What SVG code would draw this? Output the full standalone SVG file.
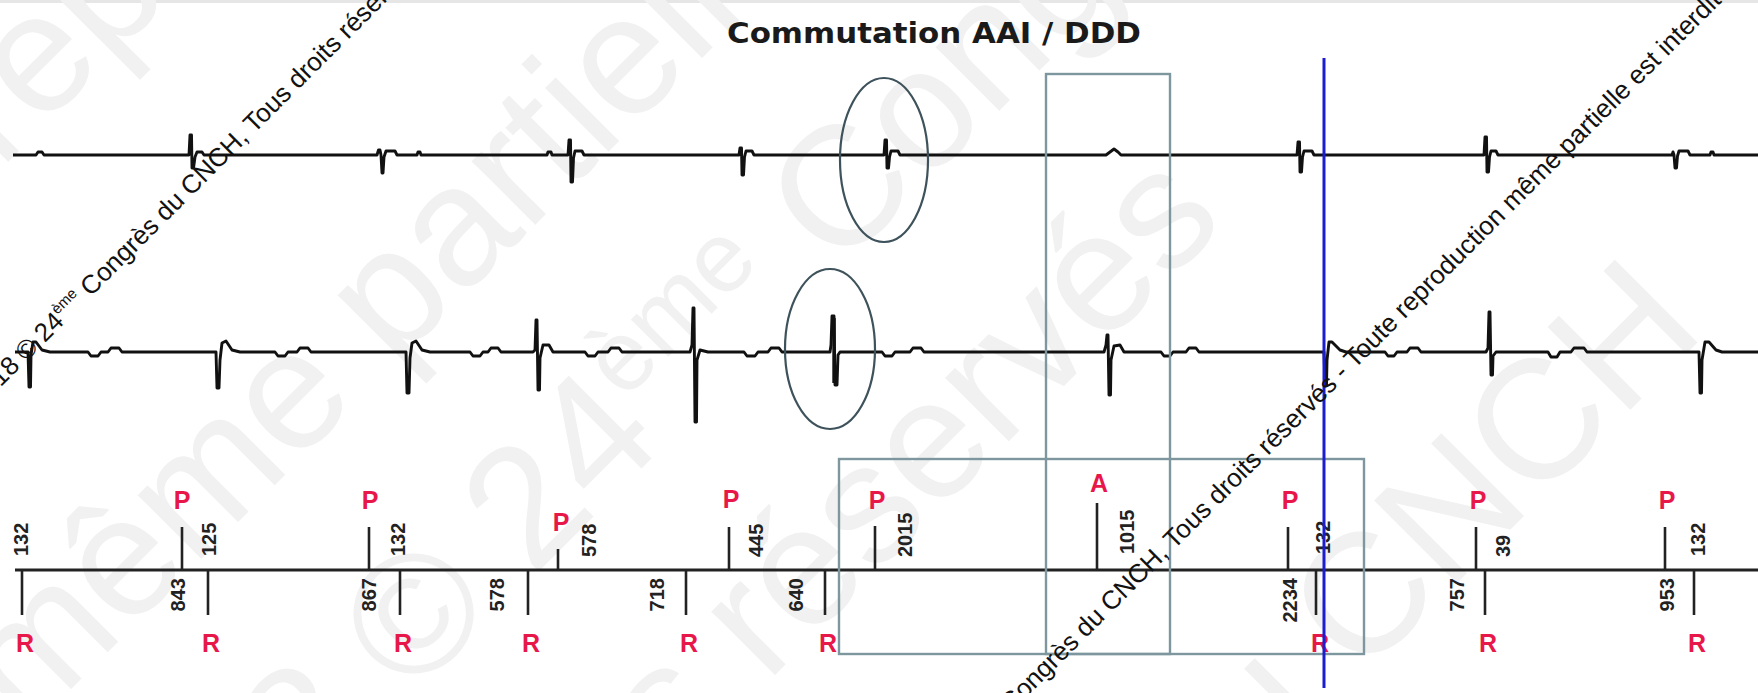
<svg xmlns="http://www.w3.org/2000/svg" width="1758" height="693" viewBox="0 0 1758 693">
<style>
.bg{fill:#ffffff}
.wmbig{font-family:"Liberation Sans",Arial,sans-serif;font-size:170px;fill:#f1f1f1}
.wm{font-family:"Liberation Sans",Arial,sans-serif;font-size:26px;fill:#111111}
.trace{fill:none;stroke:#111111;stroke-width:2.9;stroke-linejoin:round}
.axis{stroke:#222222;stroke-width:2.8}
.tick{stroke:#222222;stroke-width:2.6}
.mk{font-family:"Liberation Sans",Arial,sans-serif;font-weight:bold;font-size:25px;fill:#e8174a;text-anchor:middle}
.num{font-family:"Liberation Sans",Arial,sans-serif;font-weight:bold;font-size:20px;fill:#222222}
.box{fill:none;stroke:#7e979f;stroke-width:2.4}
.ell{fill:none;stroke:#3e525b;stroke-width:2.2}
.title{font-family:"DejaVu Sans",Verdana,sans-serif;font-weight:bold;font-size:28px;fill:#1a1a1a;text-anchor:middle}
</style>
<rect class="bg" x="0" y="0" width="1758" height="693"/>
<rect x="0" y="0" width="1758" height="3" fill="#e6e6e6"/>

<g id="watermark-faint">
<text class="wmbig" transform="translate(0,170) rotate(-45)">reproduction</text>
<text class="wmbig" transform="translate(26,734) rotate(-45)">même partielle</text>
<text class="wmbig" transform="translate(110,1000) rotate(-45)">2018 © 24<tspan font-size="100" dy="-60">ème</tspan><tspan dy="60"> Congrès</tspan></text>
<text class="wmbig" transform="translate(152,1298) rotate(-45)">Tous droits réservés</text>
<text class="wmbig" transform="translate(1193,847) rotate(-45)">du CNCH</text>
</g>

<g id="title">
<text class="title" x="934" y="43" textLength="414" lengthAdjust="spacingAndGlyphs">Commutation AAI / DDD</text>
</g>

<g id="trace-top">
<path class="trace" d="M13,155 L36,155 L38,152 L42,152 L44,155 L187,155 L189,155 L190,135 L191.5,135 L192,168 L193.5,168 L195,157 L197,152 L202,152 L204,155 L377,155 L378.5,150 L380,150 L381,155 L382,173 L383,173 L384,157 L386,151 L395,151 L397,155 L417,155 L418,152 L420,152 L421,155 L547,155 L548,152 L551,152 L552,155 L568,155 L569,140 L570.5,140 L571,182 L572.5,182 L573.5,158 L575,151 L582,151 L584,155 L739,155 L740,148 L741.5,148 L742,175 L743.5,175 L744.5,157 L746,151 L752,151 L754,155 L884,155 L885,140 L886.5,140 L887,168 L888.5,168 L889.5,157 L891,151 L898,151 L900,155 L1106,155 L1110,152 L1114,149 L1118,152 L1121,155 L1297,155 L1298,142 L1299.5,142 L1300,172 L1301.5,172 L1302.5,157 L1304,151 L1312,151 L1314,155 L1484,155 L1485,137 L1486.5,137 L1487,172 L1488.5,172 L1489.5,157 L1491,151 L1496,151 L1498,155 L1672,155 L1673,152 L1674,155 L1675,168 L1676.5,168 L1677.5,156 L1679,151 L1688,151 L1690,155 L1710,155 L1711,152 L1713,152 L1714,155 L1758,155"/>
</g>

<g id="trace-bottom">
<path class="trace" d="M15,352 L27,352 L28,352 L29,387 L30.5,387 L31,355 L33,342 L36,342 L42,350 L50,352 L88,352 L91,356 L98,356 L101,352 L108,352 L111,348 L119,348 L122,352 L214,352 L216,352 L217,388 L219,388 L220,360 L222,343 L226,341 L232,350 L240,352 L275,352 L278,356 L285,356 L288,352 L297,352 L300,348 L308,348 L311,352 L404,352 L406,352 L407,393 L409,393 L410,358 L412,343 L416,341 L422,350 L430,352 L470,352 L473,356 L480,356 L483,352 L488,352 L491,348 L498,348 L501,352 L533,352 L535,350 L536,320 L537,320 L538,390 L539.5,390 L540,358 L543,345 L549,345 L553,352 L585,352 L588,356 L595,356 L598,352 L608,352 L611,348 L619,348 L622,352 L690,352 L692,345 L693,308 L694,308 L695,422 L696.5,422 L697,360 L700,350 L708,352 L744,352 L747,356 L755,356 L758,352 L768,352 L771,348 L779,348 L782,352 L830,352 L831,345 L832,316 L834,316 L835,385 L837,385 L838,355 L840,352 L882,352 L885,356 L892,356 L895,352 L910,352 L913,348 L921,348 L924,352 L1104,352 L1106,345 L1107,335 L1108,335 L1109,395 L1110.5,395 L1111,360 L1114,346 L1120,345 L1124,352 L1161,352 L1164,356 L1170,356 L1173,352 L1186,352 L1189,348 L1196,348 L1199,352 L1322,352 L1324,352 L1325,385 L1326.5,385 L1327,360 L1329,342 L1332,342 L1340,350 L1346,352 L1385,352 L1388,356 L1394,356 L1397,352 L1407,352 L1410,348 L1418,348 L1421,352 L1486,352 L1488,348 L1489,312 L1490,312 L1491,375 L1492.5,375 L1493,356 L1496,352 L1548,352 L1551,357 L1557,357 L1560,352 L1571,352 L1574,348 L1584,348 L1587,352 L1697,352 L1699,352 L1700,393 L1701.5,393 L1702,360 L1705,342 L1709,342 L1716,350 L1722,352 L1758,352"/>
<path d="M834,318 L834,383" stroke="#111" stroke-width="3.4"/>
</g>

<g id="marker-channel">
<line class="axis" x1="15" y1="570" x2="1758" y2="570"/>
<g id="r-ticks">
<line class="tick" x1="22" y1="570" x2="22" y2="615"/>
<line class="tick" x1="208" y1="570" x2="208" y2="615"/>
<line class="tick" x1="400" y1="570" x2="400" y2="615"/>
<line class="tick" x1="528" y1="570" x2="528" y2="615"/>
<line class="tick" x1="686" y1="570" x2="686" y2="615"/>
<line class="tick" x1="825" y1="570" x2="825" y2="615"/>
<line class="tick" x1="1316" y1="570" x2="1316" y2="615"/>
<line class="tick" x1="1485" y1="570" x2="1485" y2="615"/>
<line class="tick" x1="1694" y1="570" x2="1694" y2="615"/>
</g>
<g id="p-ticks">
<line class="tick" x1="182" y1="570" x2="182" y2="527"/>
<line class="tick" x1="369" y1="570" x2="369" y2="527"/>
<line class="tick" x1="558" y1="570" x2="558" y2="549"/>
<line class="tick" x1="729" y1="570" x2="729" y2="527"/>
<line class="tick" x1="875" y1="570" x2="875" y2="526"/>
<line class="tick" x1="1097" y1="570" x2="1097" y2="503"/>
<line class="tick" x1="1288" y1="570" x2="1288" y2="527"/>
<line class="tick" x1="1476" y1="570" x2="1476" y2="527"/>
<line class="tick" x1="1665" y1="570" x2="1665" y2="527"/>
</g>
<g id="marker-letters">
<text class="mk" x="25" y="652">R</text>
<text class="mk" x="211" y="652">R</text>
<text class="mk" x="403" y="652">R</text>
<text class="mk" x="531" y="652">R</text>
<text class="mk" x="689" y="652">R</text>
<text class="mk" x="828" y="652">R</text>
<text class="mk" x="1320" y="652">R</text>
<text class="mk" x="1488" y="652">R</text>
<text class="mk" x="1697" y="652">R</text>
<text class="mk" x="182" y="509">P</text>
<text class="mk" x="370" y="509">P</text>
<text class="mk" x="561" y="531">P</text>
<text class="mk" x="731" y="508">P</text>
<text class="mk" x="877" y="509">P</text>
<text class="mk" x="1099" y="492">A</text>
<text class="mk" x="1290" y="509">P</text>
<text class="mk" x="1478" y="509">P</text>
<text class="mk" x="1667" y="509">P</text>
</g>
<g id="intervals-above">
<text class="num" transform="translate(28,556) rotate(-90)">132</text>
<text class="num" transform="translate(216,556) rotate(-90)">125</text>
<text class="num" transform="translate(405,556) rotate(-90)">132</text>
<text class="num" transform="translate(596,557) rotate(-90)">578</text>
<text class="num" transform="translate(763,557) rotate(-90)">445</text>
<text class="num" transform="translate(912,557) rotate(-90)">2015</text>
<text class="num" transform="translate(1134,554) rotate(-90)">1015</text>
<text class="num" transform="translate(1330,554) rotate(-90)">132</text>
<text class="num" transform="translate(1510,557) rotate(-90)">39</text>
<text class="num" transform="translate(1705,556) rotate(-90)">132</text>
</g>
<g id="intervals-below">
<text class="num" text-anchor="end" transform="translate(185,578) rotate(-90)">843</text>
<text class="num" text-anchor="end" transform="translate(376,578) rotate(-90)">867</text>
<text class="num" text-anchor="end" transform="translate(504,578) rotate(-90)">578</text>
<text class="num" text-anchor="end" transform="translate(664,578) rotate(-90)">718</text>
<text class="num" text-anchor="end" transform="translate(803,578) rotate(-90)">640</text>
<text class="num" text-anchor="end" transform="translate(1297,578) rotate(-90)">2234</text>
<text class="num" text-anchor="end" transform="translate(1464,578) rotate(-90)">757</text>
<text class="num" text-anchor="end" transform="translate(1674,578) rotate(-90)">953</text>
</g>
</g>

<g id="highlights">
<ellipse class="ell" cx="884" cy="160" rx="44" ry="82"/>
<ellipse class="ell" cx="830" cy="349" rx="45" ry="80"/>
<rect class="box" x="1046" y="74" width="124" height="580"/>
<rect class="box" x="839" y="459" width="525" height="195"/>
</g>

<g id="cursor">
<line x1="1324" y1="58" x2="1324" y2="688" stroke="#1c1cd0" stroke-width="3"/>
</g>

<g id="watermark">
<text class="wm" transform="translate(-20,408) rotate(-45)">2018 © 24<tspan font-size="15" dy="-11">ème</tspan><tspan dy="11"> Congrès du CNCH, Tous droits réservés - Toute reproduction même partielle est interdite</tspan></text>
<text class="wm" transform="translate(900,824) rotate(-45)">2018 © 24<tspan font-size="15" dy="-11">ème</tspan><tspan dy="11"> Congrès du CNCH, Tous droits réservés - Toute reproduction même partielle est interdite</tspan></text>
</g>
</svg>
